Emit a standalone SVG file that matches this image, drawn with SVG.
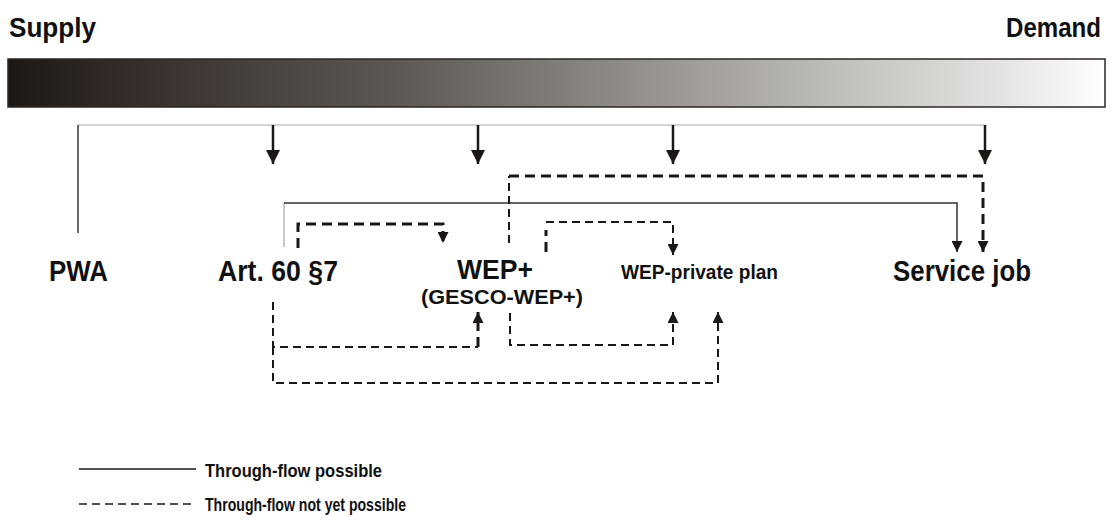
<svg xmlns="http://www.w3.org/2000/svg" width="1115" height="522" viewBox="0 0 1115 522">
  <defs>
    <linearGradient id="supplyDemand" x1="0" y1="0" x2="1" y2="0">
      <stop offset="0" stop-color="#1c1816"/>
      <stop offset="0.15" stop-color="#3a3532"/>
      <stop offset="0.35" stop-color="#5a5754"/>
      <stop offset="0.55" stop-color="#8c8a88"/>
      <stop offset="0.75" stop-color="#bdbdbb"/>
      <stop offset="0.9" stop-color="#e2e2e2"/>
      <stop offset="1" stop-color="#ffffff"/>
    </linearGradient>
    <marker id="bigHead" viewBox="0 0 10 10" refX="10" refY="5" markerWidth="16" markerHeight="14" orient="auto" markerUnits="userSpaceOnUse">
      <path d="M0,0 L10,5 L0,10 z" fill="#1a1716"/>
    </marker>
    <marker id="head" viewBox="0 0 10 10" refX="10" refY="5" markerWidth="13" markerHeight="11" orient="auto" markerUnits="userSpaceOnUse">
      <path d="M0,0 L10,5 L0,10 z" fill="#1a1716"/>
    </marker>
  </defs>
  <style>
    .lbl { font-family: "Liberation Sans Narrow", "Liberation Sans", Arial, sans-serif; font-weight: bold; fill: #111; }
    .solid { fill: none; stroke: #333; stroke-width: 1.5; }
    .dashThick { fill: none; stroke: #1a1716; stroke-width: 3; stroke-dasharray: 10 6; }
    .dashThin { fill: none; stroke: #1a1716; stroke-width: 2; stroke-dasharray: 8 5; }
    .drop { fill: none; stroke: #1a1716; stroke-width: 2.5; }
  </style>

  <!-- supply / demand scale -->
  <g id="scale">
    <text class="lbl" x="9" y="37" font-size="27" textLength="87" lengthAdjust="spacingAndGlyphs">Supply</text>
    <text class="lbl" x="1006" y="37" font-size="27" textLength="95" lengthAdjust="spacingAndGlyphs">Demand</text>
    <rect x="8" y="59" width="1097" height="48" fill="url(#supplyDemand)" stroke="#2a2624" stroke-width="1.5"/>
  </g>

  <!-- nodes -->
  <g id="node-pwa">
    <text class="lbl" x="49" y="281" font-size="30" textLength="59" lengthAdjust="spacingAndGlyphs">PWA</text>
  </g>
  <g id="node-art60">
    <text class="lbl" x="218" y="281" font-size="30" textLength="120" lengthAdjust="spacingAndGlyphs">Art. 60 §7</text>
  </g>
  <g id="node-wep">
    <text class="lbl" x="457" y="279" font-size="28" textLength="76" lengthAdjust="spacingAndGlyphs">WEP+</text>
    <text class="lbl" x="421" y="304" font-size="21" textLength="162" lengthAdjust="spacingAndGlyphs">(GESCO-WEP+)</text>
  </g>
  <g id="node-wep-private">
    <text class="lbl" x="621" y="279" font-size="20" textLength="157" lengthAdjust="spacingAndGlyphs">WEP-private plan</text>
  </g>
  <g id="node-service">
    <text class="lbl" x="893" y="281" font-size="29" textLength="138" lengthAdjust="spacingAndGlyphs">Service job</text>
  </g>

  <!-- connectors -->
  <g id="connectors">
    <!-- distribution line from the scale -->
    <path d="M78,125 H985" fill="none" stroke="#d4d4d4" stroke-width="2"/>
    <path d="M78,125 V233" fill="none" stroke="#3a3634" stroke-width="1.5"/>
    <path class="drop" d="M273,125 V164" marker-end="url(#bigHead)"/>
    <path class="drop" d="M478,125 V164" marker-end="url(#bigHead)"/>
    <path class="drop" d="M673,125 V164" marker-end="url(#bigHead)"/>
    <path class="drop" d="M985,125 V164" marker-end="url(#bigHead)"/>

    <!-- Art. 60 §7 to Service job (possible) -->
    <path d="M284,247 V203" fill="none" stroke="#b8b8b8" stroke-width="1.5"/>
    <path class="solid" d="M284,203 H957 V252" marker-end="url(#head)"/>

    <!-- Art. 60 §7 to WEP+ (top) -->
    <path class="dashThick" d="M298,248 V224 H443 V243" marker-end="url(#head)"/>

    <!-- WEP+ to Service job -->
    <path class="dashThin" d="M509,243 V176"/>
    <path class="dashThick" d="M509,176 H983 V252" marker-end="url(#head)"/>

    <!-- WEP+ to WEP-private plan (top) -->
    <path class="dashThick" d="M546,252 V230"/>
    <path class="dashThin" d="M546,222 H673 V255" marker-end="url(#head)"/>

    <!-- WEP+ to WEP-private plan (bottom) -->
    <path class="dashThin" d="M510,313 V345 H673 V312" marker-end="url(#head)"/>

    <!-- Art. 60 §7 to WEP+ (bottom) -->
    <path class="dashThin" d="M273,302 V347 H478"/>
    <path class="dashThick" d="M478,347 V312" marker-end="url(#head)"/>

    <!-- Art. 60 §7 to WEP-private plan (bottom) -->
    <path class="dashThin" d="M273,347 V383 H718 V312" marker-end="url(#head)"/>
  </g>

  <!-- legend -->
  <g id="legend">
    <path d="M79,469 H196" fill="none" stroke="#1a1716" stroke-width="1.5"/>
    <text class="lbl" x="205" y="477" font-size="18" textLength="177" lengthAdjust="spacingAndGlyphs">Through-flow possible</text>
    <path d="M79,504 H196" fill="none" stroke="#1a1716" stroke-width="1.5" stroke-dasharray="8 5"/>
    <text class="lbl" x="205" y="511" font-size="18" textLength="201" lengthAdjust="spacingAndGlyphs">Through-flow not yet possible</text>
  </g>
</svg>
